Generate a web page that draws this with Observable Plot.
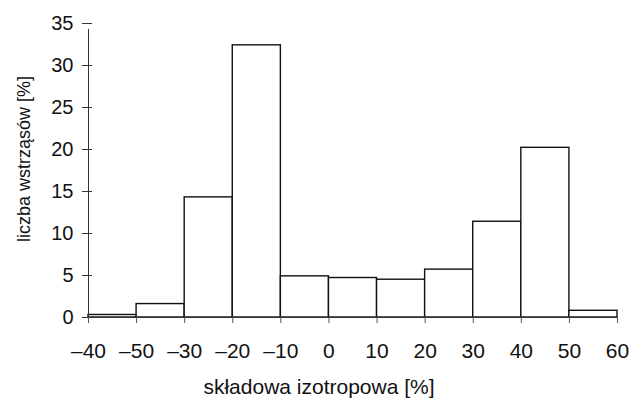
<!DOCTYPE html>
<html>
<head>
<meta charset="utf-8">
<script src="https://cdn.jsdelivr.net/npm/d3@7"></script>
<script src="https://cdn.jsdelivr.net/npm/@observablehq/plot@0.6"></script>
<style>
  body { margin: 0; background: #fff; }
  #chart svg { font-family: "Liberation Sans", Arial, sans-serif; }
</style>
</head>
<body>
<div id="chart"></div>
<script>
// tick labels as printed on the original (note the duplicated order at the start)
const xTickLabels = ["–40", "–50", "–30", "–20", "–10", "0", "10", "20", "30", "40", "50", "60"];
// bin start / end index along the axis and height of each bar [%]
const binStart = [0, 1, 2, 3, 4, 5, 6, 7, 8, 9, 10];
const binEnd   = [1, 2, 3, 4, 5, 6, 7, 8, 9, 10, 11];
const shares   = [0.3, 1.6, 14.3, 32.4, 4.9, 4.7, 4.5, 5.7, 11.4, 20.2, 0.8];
const yTicks = [0, 5, 10, 15, 20, 25, 30, 35];

const bins = shares.map((v, i) => ({x1: binStart[i], x2: binEnd[i], y: v}));
const xTickPos = xTickLabels.map((_, i) => i);

const chart = Plot.plot({
  width: 638,
  height: 399,
  marginLeft: 88,
  marginRight: 21,
  marginTop: 23,
  marginBottom: 82,
  style: {fontSize: "20px", fontFamily: "Liberation Sans, Arial, sans-serif", color: "#111", background: "#fff"},
  x: {domain: [0, 11]},
  y: {domain: [0, 35]},
  marks: [
    Plot.rectY(bins, {x1: "x1", x2: "x2", y: "y", fill: "white", stroke: "#111", strokeWidth: 1.4, inset: 0}),
    Plot.ruleY([0], {stroke: "#333", strokeWidth: 1.2}),
    Plot.ruleX([0], {y1: 0, y2: 35, stroke: "#333", strokeWidth: 1, insetBottom: -6}),
    Plot.ruleY(yTicks, {x1: 0, x2: 0, insetLeft: -6, insetRight: -4, stroke: "#333", strokeWidth: 1}),
    Plot.axisY({ticks: yTicks, tickSize: 0, tickPadding: 15, label: null, fontSize: 20}),
    Plot.axisX({ticks: xTickPos, tickFormat: (d) => xTickLabels[d], tickSize: 6, tickPadding: 20, label: null, fontSize: 21, stroke: "#555"}),
    Plot.text(["liczba wstrząsów [%]"], {frameAnchor: "left", textAnchor: "middle", lineAnchor: "middle", rotate: -90, dx: -64, dy: -11.5, fontSize: 18, fill: "#111"}),
    Plot.text(["składowa izotropowa [%]"], {frameAnchor: "bottom", textAnchor: "middle", lineAnchor: "middle", dx: -34, dy: 70, fontSize: 21, fill: "#111"})
  ]
});
document.getElementById("chart").appendChild(chart);
</script>
</body>
</html>
